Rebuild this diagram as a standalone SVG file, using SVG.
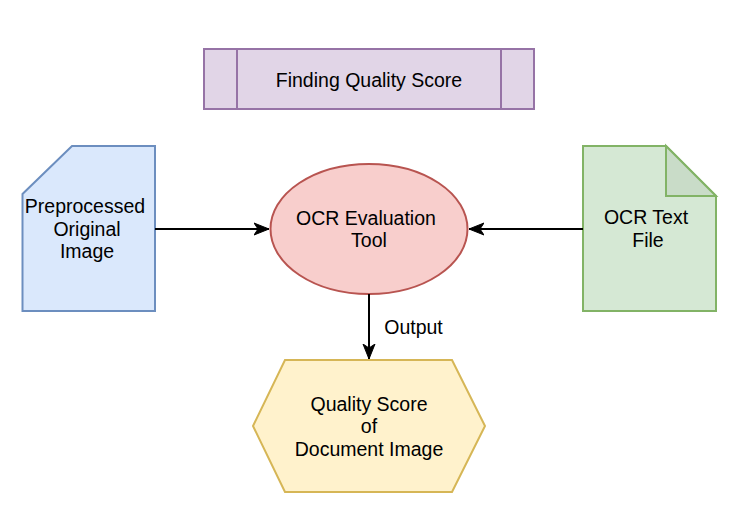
<svg xmlns="http://www.w3.org/2000/svg" width="736" height="510" viewBox="0 0 736 510">
<defs>
<marker id="arr" markerWidth="16" markerHeight="14" viewBox="0 0 16 14" refX="15" refY="7" orient="auto" markerUnits="userSpaceOnUse">
<path d="M0,1 L15,7 L0,13 L4,7 Z" fill="#000" stroke="#000" stroke-width="1"/>
</marker>
</defs>
<style>
text{font-family:"Liberation Sans",Arial,sans-serif;font-size:19.5px;fill:#000;text-anchor:middle}
.edge{stroke:#000;stroke-width:2;fill:none}
</style>
<rect width="736" height="510" fill="#fff"/>
<g id="title">
<rect x="204" y="49" width="330" height="60" fill="#e1d5e7" stroke="#9673a6" stroke-width="2"/>
<line x1="237" y1="49" x2="237" y2="109" stroke="#9673a6" stroke-width="2"/>
<line x1="501" y1="49" x2="501" y2="109" stroke="#9673a6" stroke-width="2"/>
<text x="369" y="87">Finding Quality Score</text>
</g>
<g id="image">
<path d="M72,146 L155,146 L155,311 L22.5,311 L22.5,194 Z" fill="#dae8fc" stroke="#6c8ebf" stroke-width="2"/>
<text x="85" y="213">Preprocessed</text>
<text x="87" y="236">Original</text>
<text x="87" y="258">Image</text>
</g>
<g id="textfile">
<path d="M583,146 L666,146 L716,196 L716,311 L583,311 Z" fill="#d5e8d4" stroke="#82b366" stroke-width="2"/>
<path d="M666,146 L666,196 L716,196 Z" fill="#c9dcc8" stroke="#82b366" stroke-width="2"/>
<text x="646" y="224">OCR Text</text>
<text x="648" y="247">File</text>
</g>
<g id="tool">
<ellipse cx="369" cy="229" rx="98.5" ry="65" fill="#f8cecc" stroke="#b85450" stroke-width="2"/>
<text x="366" y="225">OCR Evaluation</text>
<text x="369" y="247">Tool</text>
</g>
<g id="score">
<path d="M285,360 L452,360 L485,426 L452,492 L285,492 L253,426 Z" fill="#fff2cc" stroke="#d6b656" stroke-width="2"/>
<text x="369" y="411">Quality Score</text>
<text x="369" y="433">of</text>
<text x="369" y="456">Document Image</text>
</g>
<g id="connectors">
<line class="edge" x1="155" y1="229" x2="269" y2="229" marker-end="url(#arr)"/>
<line class="edge" x1="583" y1="229" x2="469" y2="229" marker-end="url(#arr)"/>
<line class="edge" x1="369" y1="294" x2="369" y2="359" marker-end="url(#arr)"/>
<text x="413.5" y="334">Output</text>
</g>
</svg>
